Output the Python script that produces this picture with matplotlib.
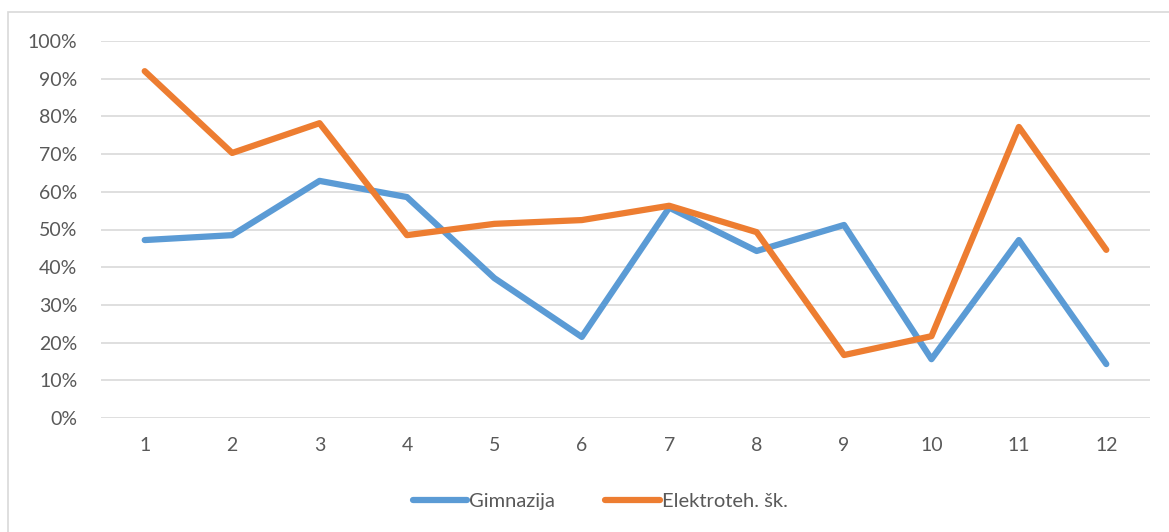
import matplotlib.pyplot as plt
from matplotlib.patches import Rectangle
from matplotlib.ticker import MultipleLocator, PercentFormatter

# Data
categories = [1, 2, 3, 4, 5, 6, 7, 8, 9, 10, 11, 12]
gimnazija = [47.2, 48.5, 62.9, 58.6, 37.1, 21.5, 55.8, 44.3, 51.2, 15.6, 47.2, 14.3]
elektroteh = [92.0, 70.3, 78.2, 48.5, 51.5, 52.5, 56.3, 49.3, 16.7, 21.7, 77.2, 44.6]
series_names = ['Gimnazija', 'Elektroteh. šk.']

plt.rcParams['font.family'] = ['Lato', 'DejaVu Sans']
text_color = '#595959'

fig = plt.figure(figsize=(11.69, 5.32), dpi=100)
ax = fig.add_axes([101 / 1169, 1 - 418 / 532, 1049 / 1169, 377 / 532])

# outer chart border (cropped at right/bottom in the reference)
fig.patches.append(Rectangle((8 / 1169, -0.1), 1.2, 1 - 12 / 532 + 0.1,
                             transform=fig.transFigure, fill=False,
                             edgecolor='#d9d9d9', linewidth=1.2))

ax.plot(categories, gimnazija, color='#5b9bd5', linewidth=4.5,
        solid_capstyle='round', solid_joinstyle='round', label=series_names[0])
ax.plot(categories, elektroteh, color='#ed7d31', linewidth=4.5,
        solid_capstyle='round', solid_joinstyle='round', label=series_names[1])

ax.set_xlim(0.5, 12.5)
ax.set_ylim(0, 100)
ax.yaxis.set_major_locator(MultipleLocator(10))
ax.yaxis.set_major_formatter(PercentFormatter(decimals=0))
ax.set_xticks(categories)
ax.grid(axis='y', color='#d9d9d9', linewidth=1.2)
ax.set_axisbelow(True)
for s in ax.spines.values():
    s.set_visible(False)
ax.tick_params(length=0, labelsize=14, colors=text_color)
ax.tick_params(axis='y', pad=17)
ax.tick_params(axis='x', pad=14)

leg = fig.legend(loc='center', bbox_to_anchor=(600 / 1169, 1 - 501 / 532), ncol=2,
                 frameon=False, fontsize=14.5, handlelength=2.7, handletextpad=0.1,
                 columnspacing=2.5)
for t in leg.get_texts():
    t.set_color(text_color)

fig.savefig('out.png', dpi=100)
